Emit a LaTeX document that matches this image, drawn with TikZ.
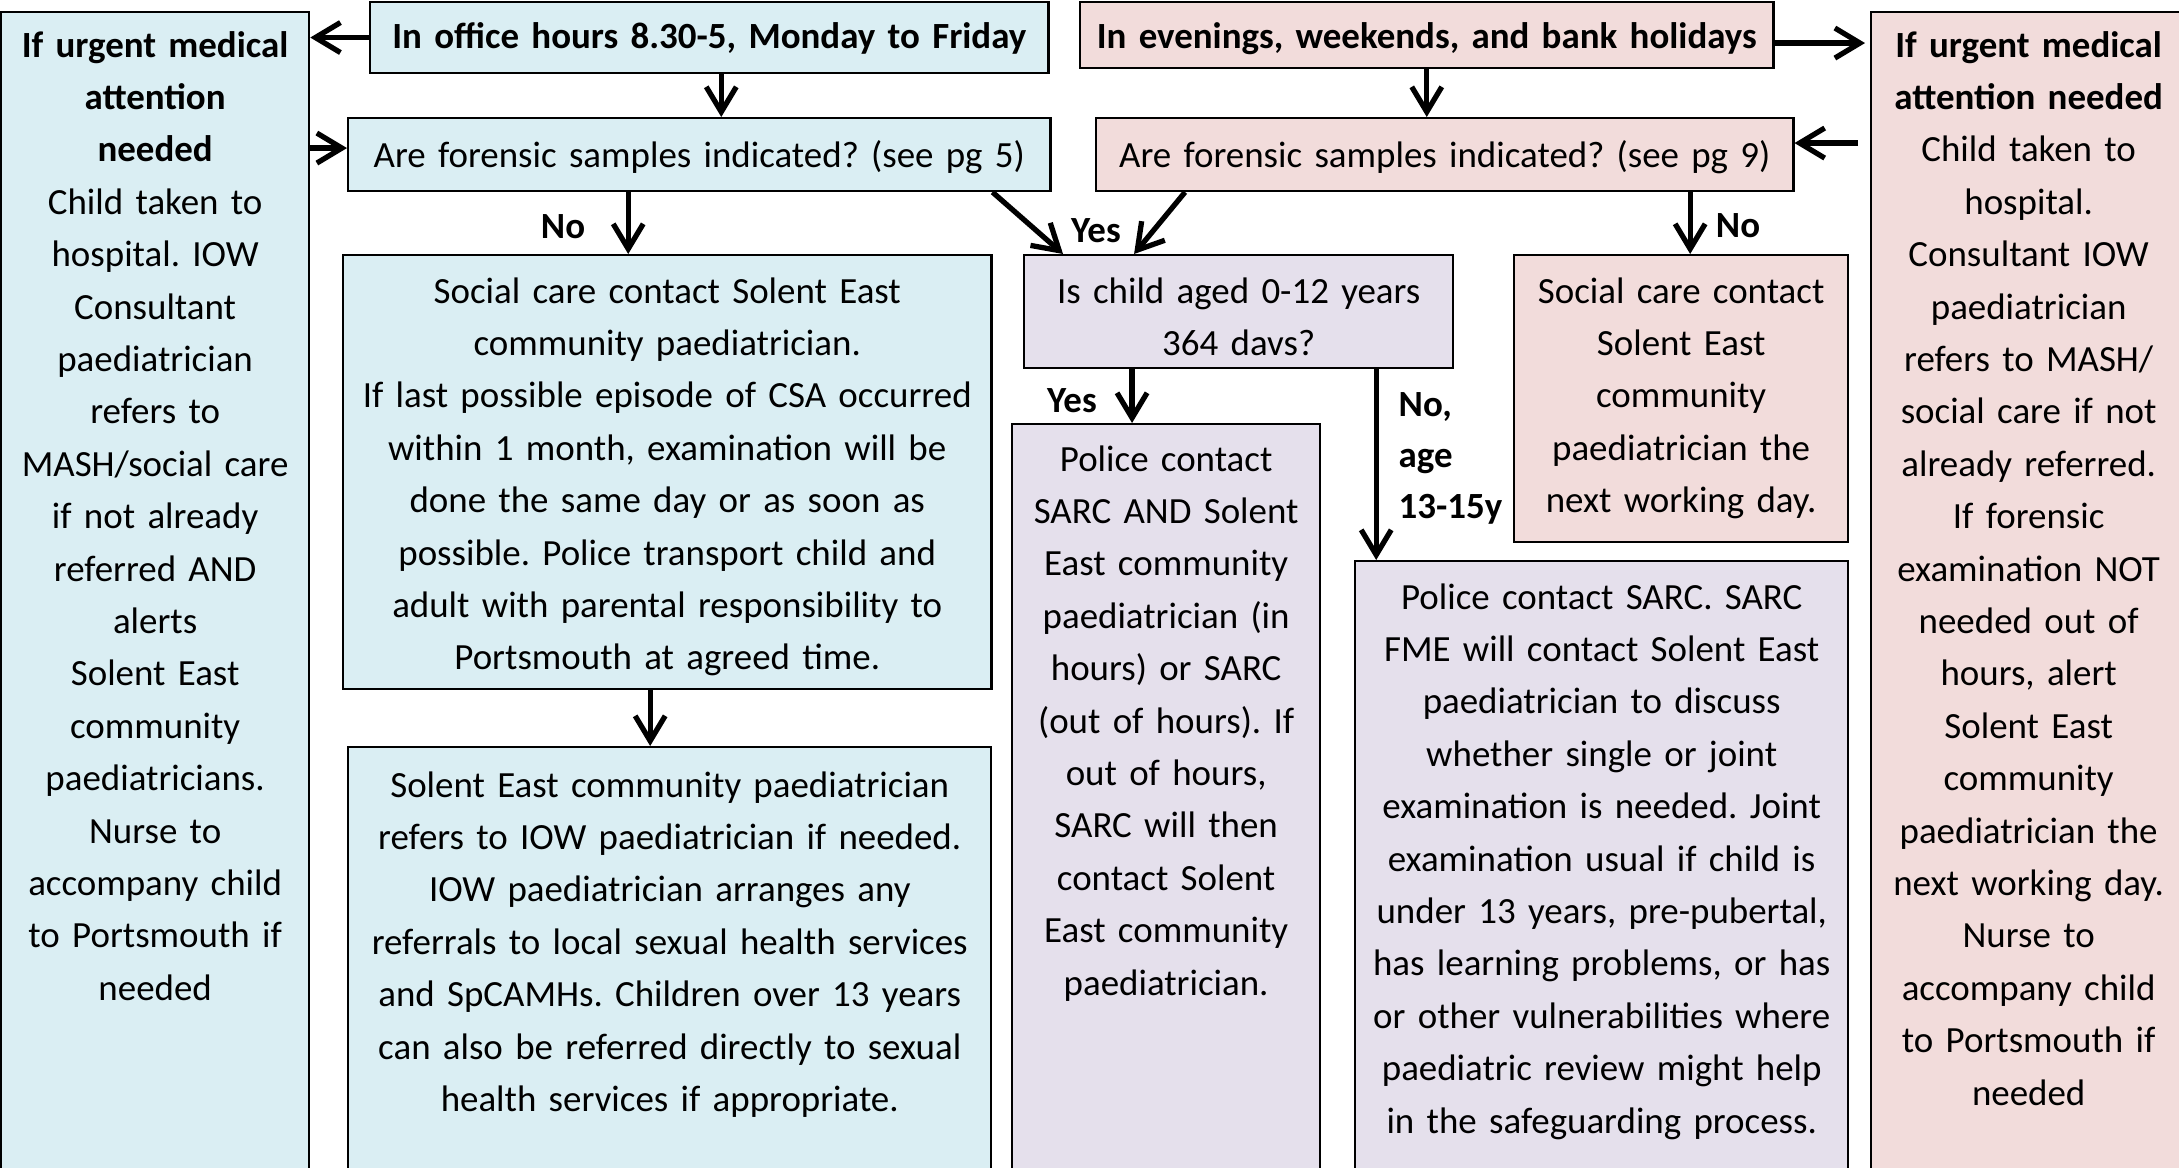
\documentclass[tikz,border=0pt]{standalone}
\usepackage{fontspec}
\setmainfont{Carlito}
\usetikzlibrary{arrows.meta,calc}
\frenchspacing

\definecolor{officeblue}{HTML}{DAEEF3}
\definecolor{eveningpink}{HTML}{F2DCDB}
\definecolor{agepurple}{HTML}{E5E0EC}

\begin{document}
\begin{tikzpicture}[
  x=0.01cm, y=-0.01cm,
  >={Straight Barb[length=2.5mm,width=3mm]},
  every node/.style={font=\fontsize{10.5}{14.9}\selectfont},
  box/.style={draw, line width=0.6pt, anchor=north west, align=center,
    inner xsep=0.5mm, inner ysep=0pt, text height=4.7mm},
  bluebox/.style={box, fill=officeblue},
  pinkbox/.style={box, fill=eveningpink},
  purplebox/.style={box, fill=agepurple},
  flow/.style={->, line width=1.5pt},
  answer/.style={font=\fontsize{10.5}{14.5}\selectfont\bfseries, inner sep=0pt}
]
\useasboundingbox (0,0) rectangle (2179,1168);

% --- Office hours (left half)
\node[bluebox, text width=29.8mm, text height=4.5mm, text depth=112.4mm] (urgentL) at (0,11)
  {\textbf{If urgent medical}\\ \textbf{attention}\\ \textbf{needed}\\
   Child taken to\\ hospital. IOW\\ Consultant\\ paediatrician\\ refers to\\
   MASH/social care\\ if not already\\ referred AND\\ alerts\\ Solent East\\
   community\\ paediatricians.\\ Nurse to\\ accompany child\\ to Portsmouth if\\ needed};
\node[bluebox, text width=66.8mm, text height=4.6mm, text depth=2.5mm] (office) at (369,1)
  {\textbf{In office hours 8.30-5, Monday to Friday}};
\node[bluebox, text width=69.2mm, text height=4.9mm, text depth=2.4mm] (askL) at (347,117)
  {Are forensic samples indicated? (see pg 5)};
\node[bluebox, text width=63.8mm, text height=4.8mm, text depth=38.6mm] (socialL) at (342,254)
  {Social care contact Solent East\\ community paediatrician.\\
   If last possible episode of CSA occurred\\ within 1 month, examination will be\\
   done the same day or as soon as\\ possible. Police transport child and\\
   adult with parental responsibility to\\ Portsmouth at agreed time.};
\node[bluebox, text width=63.3mm, text height=5mm, text depth=38.4mm] (solent) at (347,746)
  {Solent East community paediatrician\\ refers to IOW paediatrician if needed.\\
   IOW paediatrician arranges any\\ referrals to local sexual health services\\
   and SpCAMHs. Children over 13 years\\ can also be referred directly to sexual\\
   health services if appropriate.};

% --- Evenings and weekends (right half)
\node[pinkbox, text width=68.3mm, text height=4.6mm, text depth=2mm] (evening) at (1079,1)
  {\textbf{In evenings, weekends, and bank holidays}};
\node[pinkbox, text width=68.7mm, text height=4.9mm, text depth=2.4mm] (askR) at (1095,117)
  {Are forensic samples indicated? (see pg 9)};
\node[pinkbox, text width=32.4mm, text height=4.8mm, text depth=23.9mm] (socialR) at (1513,254)
  {Social care contact\\ Solent East\\ community\\ paediatrician the\\ next working day.};
\node[pinkbox, text width=30.5mm, text height=4.5mm, text depth=112.4mm] (urgentR) at (1870,11)
  {\textbf{If urgent medical}\\ \textbf{attention needed}\\
   Child taken to\\ hospital.\\ Consultant IOW\\ paediatrician\\ refers to MASH/\\
   social care if not\\ already referred.\\ If forensic\\ examination NOT\\
   needed out of\\ hours, alert\\ Solent East\\ community\\ paediatrician the\\
   next working day.\\ Nurse to\\ accompany child\\ to Portsmouth if\\ needed};

% --- Forensic route (middle)
\node[purplebox, text width=41.9mm, text height=4.8mm, text depth=6.5mm] (age) at (1023,254)
  {Is child aged 0-12 years\\ 364 davs?};
\node[purplebox, text width=29.8mm, text height=4.7mm, text depth=71mm] (policeA) at (1011,423)
  {Police contact\\ SARC AND Solent\\ East community\\ paediatrician (in\\ hours) or SARC\\
   (out of hours). If\\ out of hours,\\ SARC will then\\ contact Solent\\
   East community\\ paediatrician.};
\node[purplebox, text width=48.3mm, text height=4.8mm, text depth=57.2mm] (policeB) at (1354,560)
  {Police contact SARC. SARC\\ FME will contact Solent East\\ paediatrician to discuss\\
   whether single or joint\\ examination is needed. Joint\\ examination usual if child is\\
   under 13 years, pre-pubertal,\\ has learning problems, or has\\
   or other vulnerabilities where\\ paediatric review might help\\
   in the safeguarding process.};

% --- Answer labels
\node[answer, anchor=base] (noL) at (563,239) {No};
\node[answer, anchor=base] (yesTop) at (1096,243) {Yes};
\node[answer, anchor=base] (noR) at (1738,238) {No};
\node[answer, anchor=base] (yesAge) at (1072,413) {Yes};
\node[answer, anchor=base west, align=left, text width=12mm] (noAge) at (1398,417)
  {No,\\ age\\ 13-15y};

% --- Connectors
\draw[flow] (office.west) -- (office.west -| urgentL.east);
\draw[flow] ([xshift=1.2mm]office.south) -- ([xshift=1.2mm]office.south |- askL.north);
\draw[flow] ([yshift=0.65mm]askL.west -| urgentL.east) -- ([yshift=0.65mm]askL.west);
\draw[flow] ([xshift=-7.1mm]askL.south) -- ([xshift=-7.1mm]askL.south |- socialL.north);
\draw[flow] ([xshift=-5.9mm]askL.south east) -- ([xshift=4mm]age.north west);
\draw[flow] ([xshift=30.8mm]socialL.south west) -- ([xshift=30.8mm]socialL.south west |- solent.north);

\draw[flow] ([yshift=-0.8mm]evening.east) -- ([xshift=-0.5mm,yshift=-0.8mm]evening.east -| urgentR.west);
\draw[flow] (evening.south) -- (evening.south |- askR.north);
\draw[flow] ([xshift=-1.2mm,yshift=1.15mm]askR.east -| urgentR.west) -- ([yshift=1.15mm]askR.east);
\draw[flow] ([xshift=9mm]askR.south west) -- ([xshift=11.1mm]age.north west);
\draw[flow] ([xshift=0.9mm]socialR.north |- askR.south) -- ([xshift=0.9mm]socialR.north);

\draw[flow] ([xshift=10.9mm]age.south west) -- ([xshift=10.9mm]age.south west |- policeA.north);
\draw[flow] ([xshift=35.3mm]age.south west) -- ([xshift=35.3mm]age.south west |- policeB.north);

\end{tikzpicture}
\end{document}
